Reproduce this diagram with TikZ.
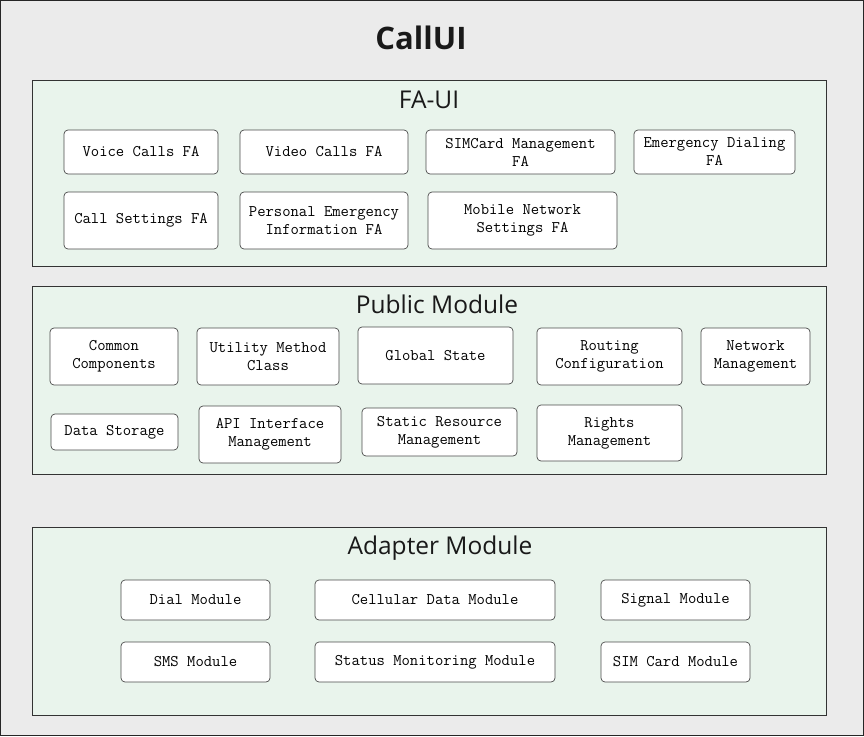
\documentclass[tikz,border=0pt]{standalone}
\usepackage{fontspec}
\setmainfont{Open Sans}
\usetikzlibrary{positioning}
\definecolor{bgray}{HTML}{EBEBEB}
\definecolor{pgreen}{HTML}{E9F4EC}
\definecolor{pline}{HTML}{333333}
\definecolor{bline}{HTML}{4A4A4A}
\tikzset{panel/.style={rectangle,fill=pgreen,draw=pline,line width=0.8pt,inner sep=0pt},
         ptitle/.style={font=\fontsize{24.5}{27}\selectfont,text=black!90,inner sep=0pt},
         mod/.style={rectangle,rounded corners=4pt,fill=white,draw=bline,line width=0.7pt,
                     align=center,inner sep=2pt,font=\ttfamily\fontsize{16.2}{18}\selectfont},
         title/.style={font=\bfseries\fontsize{31}{34}\selectfont,text=black!90,inner sep=0pt}
}
\begin{document}
\begin{tikzpicture}[x=1pt,y=-1pt]
\useasboundingbox (0,0) rectangle (864,736);
\draw[fill=bgray,draw=black!85,line width=1pt] (0.5,0.5) rectangle (863.5,735.5);
\node[title] (callui) at (421,38) {CallUI};

% FA-UI
\node[panel,minimum width=794pt,minimum height=186pt] (faui) at (429,173) {};
\node[ptitle,below=11pt of faui.north] (fauit) {FA-UI};
\node[mod,minimum width=154pt,minimum height=44pt] (voice) at (141,152) {Voice Calls FA};
\node[mod,minimum width=168pt,minimum height=44pt] (video) at (324,152) {Video Calls FA};
\node[mod,minimum width=189pt,minimum height=44pt] (simfa) at (520.5,152) {SIMCard Management\\FA};
\node[mod,minimum width=161pt,minimum height=44pt] (emerg) at (714.5,152) {Emergency Dialing\\FA};
\node[mod,minimum width=154pt,minimum height=57pt] (callset) at (141,220.5) {Call Settings FA};
\node[mod,minimum width=168pt,minimum height=57pt] (person) at (324,220.5) {Personal Emergency\\Information FA};
\node[mod,minimum width=189pt,minimum height=57pt] (mobile) at (522.5,220.5) {Mobile Network\\Settings FA};

% Public Module
\node[panel,minimum width=794pt,minimum height=188pt] (pub) at (429,380) {};
\node[ptitle,below=9pt of pub.north,xshift=8pt] (pubt) {Public Module};
\node[mod,minimum width=128pt,minimum height=57pt] (common) at (114,356.5) {Common\\Components};
\node[mod,minimum width=142pt,minimum height=57pt] (util) at (268,356.5) {Utility Method\\Class};
\node[mod,minimum width=155pt,minimum height=57pt] (glob) at (435.5,355.5) {Global State};
\node[mod,minimum width=145pt,minimum height=57pt] (route) at (609.5,356.5) {Routing\\Configuration};
\node[mod,minimum width=109pt,minimum height=57pt] (netw) at (755.5,356.5) {Network\\Management};
\node[mod,minimum width=127pt,minimum height=36pt] (store) at (114.5,432) {Data Storage};
\node[mod,minimum width=142pt,minimum height=57pt] (api) at (270,434.5) {API Interface\\Management};
\node[mod,minimum width=155pt,minimum height=48pt] (static) at (439.5,432) {Static Resource\\Management};
\node[mod,minimum width=145pt,minimum height=56pt] (rights) at (609.5,433) {Rights\\Management};

% Adapter Module
\node[panel,minimum width=794pt,minimum height=188pt] (adp) at (429,621) {};
\node[ptitle,below=9pt of adp.north,xshift=11pt] (adpt) {Adapter Module};
\node[mod,minimum width=149pt,minimum height=40pt] (dial) at (195.5,600) {Dial Module};
\node[mod,minimum width=240pt,minimum height=40pt] (cell) at (435,600) {Cellular Data Module};
\node[mod,minimum width=149pt,minimum height=40pt] (signal) at (675.5,600) {Signal Module};
\node[mod,minimum width=149pt,minimum height=40pt] (sms) at (195.5,662) {SMS Module};
\node[mod,minimum width=240pt,minimum height=40pt] (status) at (435,662) {Status Monitoring Module};
\node[mod,minimum width=149pt,minimum height=40pt] (simmod) at (675.5,662) {SIM Card Module};
\end{tikzpicture}
\end{document}
